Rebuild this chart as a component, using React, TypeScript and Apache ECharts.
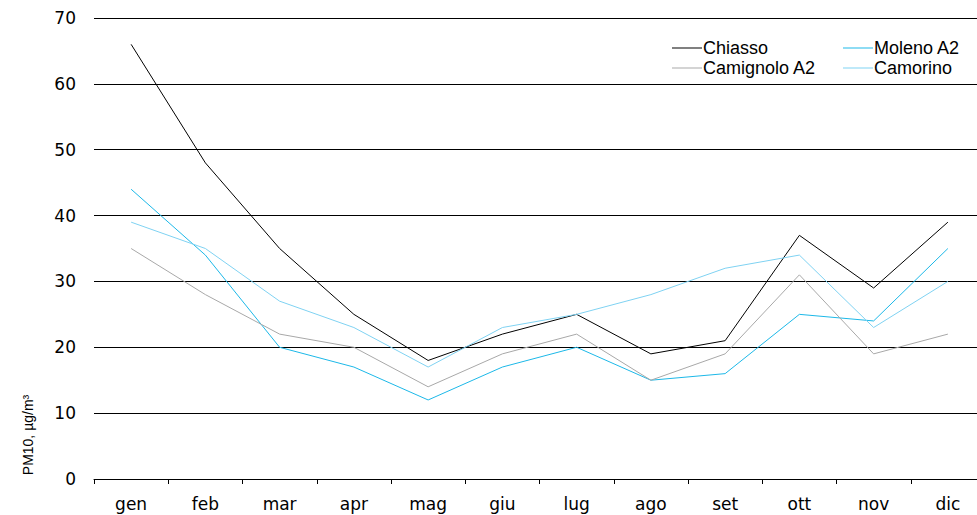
import React, { useEffect, useRef } from "react";
import * as echarts from "echarts";

const months = ["gen", "feb", "mar", "apr", "mag", "giu", "lug", "ago", "set", "ott", "nov", "dic"];
const chiasso = [66, 48, 35, 25, 18, 22, 25, 19, 21, 37, 29, 39];
const moleno = [44, 34, 20, 17, 12, 17, 20, 15, 16, 25, 24, 35];
const camignolo = [35, 28, 22, 20, 14, 19, 22, 15, 19, 31, 19, 22];
const camorino = [39, 35, 27, 23, 17, 23, 25, 28, 32, 34, 23, 30];
const yTicks = { min: 0, max: 70, interval: 10 };

const FONT = "DejaVu Sans, Liberation Sans, Arial, sans-serif";
const FONT2 = "Liberation Sans, Arial, sans-serif";

export default function App() {
  const ref = useRef<HTMLDivElement>(null);
  useEffect(() => {
    if (!ref.current) return;
    const chart = echarts.init(ref.current, null, { renderer: "svg" });
    const mk = (name: string, data: number[], color: string) => ({
      name,
      type: "line",
      data,
      symbol: "none",
      lineStyle: { color, width: 1 },
      itemStyle: { color },
    });
    const legendBase = {
      orient: "vertical",
      top: 34,
      icon: "rect",
      itemWidth: 30,
      itemHeight: 1,
      itemGap: 2,
      textStyle: { fontFamily: FONT2, fontSize: 18, color: "#000", padding: [0, 0, 0, -4] },
    };
    chart.setOption({
      animation: false,
      backgroundColor: "#fff",
      textStyle: { fontFamily: FONT },
      grid: { left: 94, right: 0, top: 18, bottom: 36, containLabel: false },
      legend: [
        { ...legendBase, left: 667, data: ["Chiasso", "Camignolo A2"] },
        { ...legendBase, left: 838, data: ["Moleno A2", "Camorino"] },
      ],
      xAxis: {
        type: "category",
        data: months,
        boundaryGap: true,
        axisLine: { show: true, lineStyle: { color: "#000", width: 1 } },
        axisTick: { show: true, length: 5, lineStyle: { color: "#000" } },
        axisLabel: { fontFamily: FONT, fontSize: 17, color: "#000", margin: 16 },
        splitLine: { show: false },
      },
      yAxis: {
        type: "value",
        min: yTicks.min,
        max: yTicks.max,
        interval: yTicks.interval,
        axisLine: { show: false },
        axisTick: { show: false },
        axisLabel: { fontFamily: FONT, fontSize: 17, color: "#000", margin: 18 },
        splitLine: { show: true, lineStyle: { color: "#000", width: 1 } },
      },
      graphic: [
        {
          type: "text",
          x: 28,
          y: 435,
          rotation: Math.PI / 2,
          style: {
            text: "PM10, µg/m³",
            fontFamily: FONT2,
            fontSize: 14,
            fill: "#000",
            textAlign: "center",
            textVerticalAlign: "middle",
          },
        },
      ],
      series: [
        mk("Chiasso", chiasso, "#000000"),
        mk("Moleno A2", moleno, "#1cb8e8"),
        mk("Camignolo A2", camignolo, "#a8a8a8"),
        mk("Camorino", camorino, "#7fd2f2"),
      ],
    });
    return () => chart.dispose();
  }, []);
  return (
    <div
      ref={ref}
      style={{ position: "fixed", left: 0, top: 0, width: 985, height: 515 }}
    />
  );
}
